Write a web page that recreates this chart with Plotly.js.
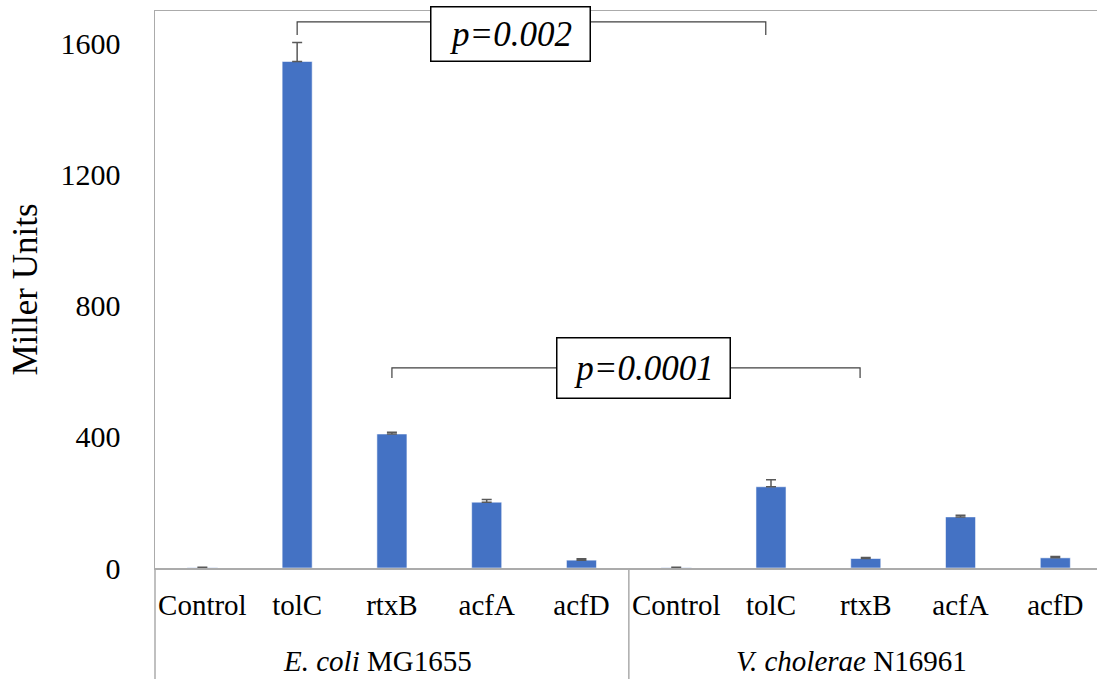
<!DOCTYPE html>
<html>
<head>
<meta charset="utf-8">
<script src="https://cdn.plot.ly/plotly-3.0.1.min.js"></script>
<style>html,body{margin:0;padding:0;background:#fff;}#chart{width:1097px;height:679px;}
#chart svg text{font-family:'Liberation Serif','Times New Roman',Times,serif !important;}
</style>
</head>
<body>
<div id="chart"></div>
<script>
// ---- data ----
const groups = ["<i>E. coli</i> MG1655", "<i>V. cholerae</i> N16961"];
const genes = ["Control", "tolC", "rtxB", "acfA", "acfD"];
const ecoliValues = [1, 1546, 409, 201, 24];
const ecoliErrors = [1, 58, 5, 8, 4];
const vcholValues = [1, 248, 29, 156, 31];
const vcholErrors = [1, 21, 3, 5, 4];
const yTickVals = [0, 400, 800, 1200, 1600];
// comparisons: [left category index, right category index, p label]
const compLeft = [1, 2];
const compRight = [6, 7];
const compLabels = ["<i>p=0.002</i>", "<i>p=0.0001</i>"];

// ---- build ----
const categories = genes.concat(genes);
const values = ecoliValues.concat(vcholValues);
const errors = ecoliErrors.concat(vcholErrors);
const xIdx = categories.map((_, i) => i);

const SERIF = 'serif';
const xRange = [-0.5, 9.44];
const span = xRange[1] - xRange[0];
const toPaperX = v => (v - xRange[0]) / span;

const bracketStyle = [
  {yLine: 1667, yTick: 1627, rightInset: 0.055, boxX: 3.246, boxY: 1630, w: 158, h: 53},
  {yLine: 611, yTick: 580, rightInset: 0.06, boxX: 4.654, boxY: 611, w: 172, h: 59}
];

const trace = {
  type: 'bar',
  x: xIdx,
  y: values,
  width: 0.317,
  marker: {color: '#4472C4', line: {color: 'rgba(255,255,255,0.55)', width: 1}},
  error_y: {type: 'data', symmetric: false, array: errors, arrayminus: errors.map(() => 0),
    visible: true, color: '#595959', thickness: 1.5, width: 5},
  hoverinfo: 'skip'
};

const shapes = [];
const annotations = [];
const lineGray = '#ABABAB';

// category-area dividers
const nPer = genes.length;
for (let g = 0; g <= groups.length; g++) {
  const bx = g * nPer - 0.5;
  if (bx > xRange[1]) continue;
  shapes.push({type: 'line', xref: 'paper', yref: 'paper', x0: toPaperX(bx), x1: toPaperX(bx), y0: 0, y1: -0.25,
    line: {color: lineGray, width: 1.5}});
}
// group labels
groups.forEach((g, i) => {
  annotations.push({xref: 'x', yref: 'paper', x: i * nPer + (nPer - 1) / 2, y: -0.167, xshift: -14,
    text: g, showarrow: false, yanchor: 'middle', font: {family: SERIF, size: 29, color: '#000000'}});
});
// brackets
compLeft.forEach((l, i) => {
  const s = bracketStyle[i];
  const r = compRight[i] - s.rightInset;
  shapes.push({type: 'path', xref: 'x', yref: 'y',
    path: `M ${l},${s.yTick} L ${l},${s.yLine} L ${r},${s.yLine} L ${r},${s.yTick}`,
    line: {color: '#404040', width: 1.2}});
  annotations.push({xref: 'x', yref: 'y', x: s.boxX, y: s.boxY, text: compLabels[i], showarrow: false,
    width: s.w, height: s.h, borderpad: 0, bgcolor: '#fff', bordercolor: '#000', borderwidth: 1.5,
    xanchor: 'center', yanchor: 'middle', valign: 'middle',
    font: {family: SERIF, size: 35, color: '#000000'}});
});

const layout = {
  width: 1097, height: 679,
  margin: {l: 155, r: 0, t: 11, b: 111, pad: 0},
  paper_bgcolor: '#ffffff', plot_bgcolor: '#ffffff',
  font: {family: SERIF, color: '#000000'},
  showlegend: false,
  bargap: 0,
  xaxis: {
    range: xRange, tickvals: xIdx, ticktext: categories,
    showgrid: false, zeroline: false,
    showline: true, mirror: true, linecolor: lineGray, linewidth: 1.5,
    ticks: 'outside', ticklen: 11, tickcolor: 'rgba(0,0,0,0)',
    tickfont: {family: SERIF, size: 29, color: '#000000'}
  },
  yaxis: {
    range: [0, 1700], tickvals: yTickVals, ticktext: yTickVals.map(String),
    showgrid: false, zeroline: false,
    showline: true, linecolor: lineGray, linewidth: 1.5,
    ticks: 'outside', ticklen: 27, tickcolor: 'rgba(0,0,0,0)',
    tickfont: {family: SERIF, size: 30, color: '#000000'},
    title: {text: 'Miller Units', font: {family: SERIF, size: 35, color: '#000000'}, standoff: 12}
  },
  shapes: shapes,
  annotations: annotations
};

Plotly.newPlot('chart', [trace], layout, {displayModeBar: false, staticPlot: true});
</script>
</body>
</html>
